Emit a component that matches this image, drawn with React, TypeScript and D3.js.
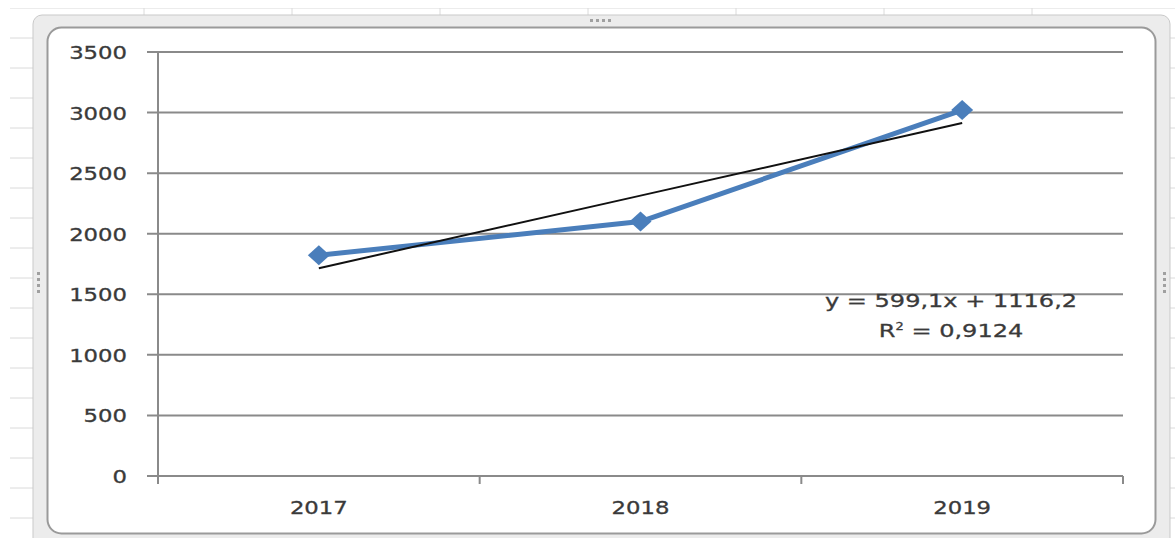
import React from "react";
import * as d3 from "d3";

const years = ["2017", "2018", "2019"];
const values = [1822.5, 2100, 3020.7];
const yTicks = [0, 500, 1000, 1500, 2000, 2500, 3000, 3500];
const trendSlope = 599.1;
const trendIntercept = 1116.2;
const equationLabel = "y = 599,1x + 1116,2";
const r2Label = "0,9124";

const W = 1175;
const H = 538;
const FONT = "'DejaVu Sans', Verdana, sans-serif";
const TEXT = "#3a3a3a";
const SX = 1.3;

function StretchText({ x, y, anchor, size, children }: any) {
  return (
    <g transform={`translate(${x},${y}) scale(${SX},1)`}>
      <text x={0} y={0} textAnchor={anchor} fontSize={size} fontFamily={FONT} fill={TEXT} stroke={TEXT} strokeWidth={0.3}>
        {children}
      </text>
    </g>
  );
}

export default function App() {
  const left = 158, right = 1123, top = 52, bottom = 476;
  const x = d3.scaleBand<string>().domain(years).range([left, right]).padding(0);
  const y = d3.scaleLinear().domain([0, 3500]).range([bottom, top]);
  const cx = (d: string) => (x(d) as number) + x.bandwidth() / 2;

  const line = d3
    .line<number>()
    .x((_, i) => cx(years[i]))
    .y((v) => y(v));

  const trendVals = years.map((_, i) => trendSlope * (i + 1) + trendIntercept);

  const rowLines = d3.range(8, 540, 30);
  const colLines = d3.range(0, 8).map((i) => 144 + i * 148);

  const xTickPos = [left, ...years.map((d) => (x(d) as number) + x.bandwidth())];

  return (
    <svg
      width={W}
      height={H}
      style={{ position: "absolute", left: 0, top: 0, background: "#fff" }}
    >
      {rowLines.map((ry) => (
        <line key={"r" + ry} x1={10} x2={W} y1={ry} y2={ry} stroke="#dadada" strokeWidth={1} />
      ))}
      {colLines.map((cxl) => (
        <line key={"c" + cxl} x1={cxl} x2={cxl} y1={8} y2={H} stroke="#dadada" strokeWidth={1} />
      ))}
      <rect x={0} y={0} width={W} height={8} fill="#fff" />
      <rect x={0} y={0} width={10} height={H} fill="#fff" />

      <rect x={33} y={15} width={1137} height={540} rx={9} fill="#ececec" stroke="#c9c9c9" strokeWidth={1} />
      <rect x={47.5} y={27.5} width={1108} height={506} rx={14} fill="#fff" stroke="#9a9a9a" strokeWidth={2} />
      {[0, 1, 2, 3].map((i) => (
        <rect key={"ht" + i} x={590 + i * 6} y={19} width={3} height={3} fill="#a0a0a0" />
      ))}
      {[0, 1, 2, 3].map((i) => (
        <rect key={"hl" + i} x={37} y={272 + i * 6} width={3} height={3} fill="#a0a0a0" />
      ))}
      {[0, 1, 2, 3].map((i) => (
        <rect key={"hr" + i} x={1163} y={272 + i * 6} width={3} height={3} fill="#a0a0a0" />
      ))}

      {yTicks.map((t) => (
        <g key={"g" + t}>
          <line x1={147} x2={right} y1={y(t)} y2={y(t)} stroke="#8a8a8a" strokeWidth={2} />
          <StretchText x={127} y={y(t) + 7} anchor="end" size={17.5}>
            {t}
          </StretchText>
        </g>
      ))}

      <line x1={left} x2={left} y1={top} y2={bottom + 8} stroke="#8a8a8a" strokeWidth={2} />
      {xTickPos.map((p, i) => (
        <line key={"xt" + i} x1={p} x2={p} y1={bottom} y2={bottom + 8} stroke="#8a8a8a" strokeWidth={2} />
      ))}
      {years.map((d) => (
        <StretchText key={"xl" + d} x={cx(d)} y={514} anchor="middle" size={17.5}>
          {d}
        </StretchText>
      ))}

      <path d={line(values) || ""} fill="none" stroke="#4a7ebb" strokeWidth={5} strokeLinejoin="round" />
      {values.map((v, i) => {
        const px = cx(years[i]);
        const py = y(v);
        return (
          <path
            key={"m" + i}
            d={`M${px},${py - 10}L${px + 11},${py}L${px},${py + 10}L${px - 11},${py}Z`}
            fill="#4a7ebb"
          />
        );
      })}

      <path d={line(trendVals) || ""} fill="none" stroke="#111" strokeWidth={2} />

      <StretchText x={951} y={307} anchor="middle" size={18.5}>
        {equationLabel}
      </StretchText>
      <g transform={`translate(951,337) scale(${SX},1)`}>
        <text x={0} y={0} textAnchor="middle" fontSize={18.5} fontFamily={FONT} fill={TEXT} stroke={TEXT} strokeWidth={0.3}>
          R<tspan fontSize={10} dy={-7}>2</tspan>
          <tspan dy={7}> = {r2Label}</tspan>
        </text>
      </g>
    </svg>
  );
}
